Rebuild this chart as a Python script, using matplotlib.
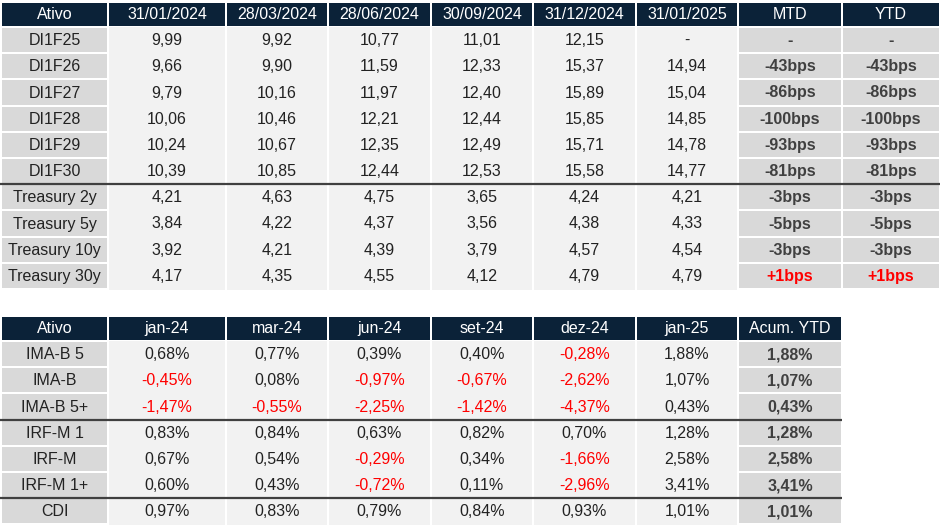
#!/usr/bin/env python3
"""Tabelas de taxas DI / Treasury e retorno dos indices ANBIMA."""

import matplotlib.pyplot as plt
from matplotlib.patches import Rectangle

# ---- dados: tabela de taxas ----
rate_dates = ["31/01/2024", "28/03/2024", "28/06/2024", "30/09/2024",
              "31/12/2024", "31/01/2025"]
rate_names = ["DI1F25", "DI1F26", "DI1F27", "DI1F28", "DI1F29", "DI1F30",
              "Treasury 2y", "Treasury 5y", "Treasury 10y", "Treasury 30y"]
di1f25 = [9.99, 9.92, 10.77, 11.01, 12.15, None]
di1f26 = [9.66, 9.90, 11.59, 12.33, 15.37, 14.94]
di1f27 = [9.79, 10.16, 11.97, 12.40, 15.89, 15.04]
di1f28 = [10.06, 10.46, 12.21, 12.44, 15.85, 14.85]
di1f29 = [10.24, 10.67, 12.35, 12.49, 15.71, 14.78]
di1f30 = [10.39, 10.85, 12.44, 12.53, 15.58, 14.77]
ust2 = [4.21, 4.63, 4.75, 3.65, 4.24, 4.21]
ust5 = [3.84, 4.22, 4.37, 3.56, 4.38, 4.33]
ust10 = [3.92, 4.21, 4.39, 3.79, 4.57, 4.54]
ust30 = [4.17, 4.35, 4.55, 4.12, 4.79, 4.79]
mtd_bps = [None, -43, -86, -100, -93, -81, -3, -5, -3, 1]
ytd_bps = [None, -43, -86, -100, -93, -81, -3, -5, -3, 1]

# ---- dados: tabela de retornos ----
ret_months = ["jan-24", "mar-24", "jun-24", "set-24", "dez-24", "jan-25"]
ret_names = ["IMA-B 5", "IMA-B", "IMA-B 5+", "IRF-M 1", "IRF-M", "IRF-M 1+", "CDI"]
imab5 = [0.68, 0.77, 0.39, 0.40, -0.28, 1.88]
imab = [-0.45, 0.08, -0.97, -0.67, -2.62, 1.07]
imab5p = [-1.47, -0.55, -2.25, -1.42, -4.37, 0.43]
irfm1 = [0.83, 0.84, 0.63, 0.82, 0.70, 1.28]
irfm = [0.67, 0.54, -0.29, 0.34, -1.66, 2.58]
irfm1p = [0.60, 0.43, -0.72, 0.11, -2.96, 3.41]
cdi = [0.97, 0.83, 0.79, 0.84, 0.93, 1.01]
acum_ytd = [1.88, 1.07, 0.43, 1.28, 2.58, 3.41, 1.01]

# ---- estilo ----
NAVY = "#0b2238"
LABEL_BG = "#d9d9d9"
DATA_BG = "#f2f2f2"
TXT = "#222222"
RED = "#ff0000"
SEP = "#404040"
FONT = "Liberation Sans"
FS = 11.5

col_edges = [1, 108, 226, 328, 431, 533, 636, 738, 842, 940]
HEAD_H = 24.5
ROW_H = 26.2


def br(v, nd=2):
    return f"{v:.{nd}f}".replace(".", ",")


def cell(ax, x0, x1, y0, y1, color, gx=1.0, gy=1.0):
    ax.add_patch(Rectangle((x0 + gx, y0 + gy), x1 - x0 - 2 * gx, y1 - y0 - 2 * gy,
                           facecolor=color, edgecolor="none"))


def put(ax, x0, x1, y0, y1, s, color=TXT, bold=False):
    ax.text((x0 + x1) / 2, (y0 + y1) / 2 + 0.5, s, ha="center", va="center",
            fontsize=FS, color=color, family=FONT,
            fontweight="bold" if bold else "normal")


def draw_table(ax, top, headers, names, rows, extra_cols, seps):
    ncol = 1 + len(headers) + len(extra_cols)
    edges = col_edges[:ncol + 1]
    # cabecalho
    for j, h in enumerate(["Ativo"] + headers + [c[0] for c in extra_cols]):
        cell(ax, edges[j], edges[j + 1], top, top + HEAD_H, NAVY)
        put(ax, edges[j], edges[j + 1], top, top + HEAD_H, h, color="white")
    y = top + HEAD_H + 0.5
    for i, name in enumerate(names):
        y0, y1 = y + i * ROW_H, y + (i + 1) * ROW_H
        cell(ax, edges[0], edges[1], y0, y1, LABEL_BG)
        put(ax, edges[0], edges[1], y0, y1, name)
        for j, (txt, col) in enumerate(rows[i]):
            x0, x1 = edges[1 + j], edges[2 + j]
            cell(ax, x0, x1, y0 - 0.5, y1 + 0.5, DATA_BG, gy=0)
            put(ax, x0, x1, y0, y1, txt, color=col)
        for k, (_, vals, fmt) in enumerate(extra_cols):
            x0, x1 = edges[1 + len(headers) + k], edges[2 + len(headers) + k]
            cell(ax, x0, x1, y0, y1, LABEL_BG)
            txt, col = fmt(vals[i])
            put(ax, x0, x1, y0, y1, txt, color=col, bold=True)
    for s in seps:
        ys = y + s * ROW_H
        ax.plot([edges[0] - 1, edges[-1]], [ys, ys], color=SEP, lw=1.6,
                solid_capstyle="butt")


def fmt_rate(v):
    return ("-", TXT) if v is None else (br(v), TXT)


def fmt_bps(v):
    if v is None:
        return ("-", SEP)
    if v > 0:
        return (f"+{v}bps", RED)
    return (f"{v}bps", SEP)


def fmt_pct(v):
    return (br(v) + "%", RED if v < 0 else TXT)


def fmt_pct_acum(v):
    return (br(v) + "%", RED if v < 0 else SEP)


fig = plt.figure(figsize=(9.4, 5.27), dpi=100)
ax = fig.add_axes([0, 0, 1, 1])
ax.set_xlim(0, 940)
ax.set_ylim(527, 0)
ax.axis("off")

rate_rows = [[fmt_rate(v) for v in r]
             for r in [di1f25, di1f26, di1f27, di1f28, di1f29, di1f30,
                       ust2, ust5, ust10, ust30]]
draw_table(ax, 2, rate_dates, rate_names, rate_rows,
           [("MTD", mtd_bps, fmt_bps), ("YTD", ytd_bps, fmt_bps)], seps=[6])

ret_rows = [[fmt_pct(v) for v in r]
            for r in [imab5, imab, imab5p, irfm1, irfm, irfm1p, cdi]]
draw_table(ax, 316, ret_months, ret_names, ret_rows,
           [("Acum. YTD", acum_ytd, fmt_pct_acum)], seps=[3, 6])

fig.savefig("out.png", dpi=100, facecolor="white")
